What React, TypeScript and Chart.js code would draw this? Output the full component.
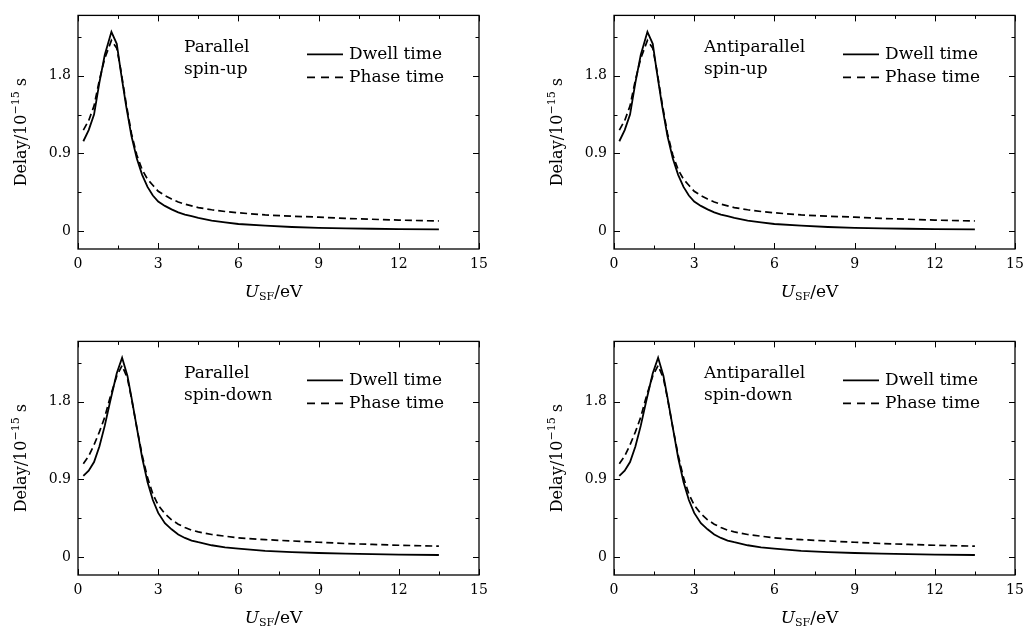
import React, { useEffect, useRef } from "react";
import { Chart, registerables } from "chart.js";

Chart.register(...registerables);

// ---------- data ----------
const energySpinUp = [0.2, 0.4, 0.6, 0.8, 1.0, 1.25, 1.45, 1.6, 1.8, 2.0, 2.2, 2.4, 2.6, 2.8, 3.0, 3.25, 3.5, 3.75, 4, 4.25, 4.5, 5, 5.5, 6, 7, 8, 9, 10, 11, 12, 13.5];
const parallelUpDwell = [1.04, 1.17, 1.35, 1.72, 2.04, 2.31, 2.17, 1.85, 1.45, 1.1, 0.84, 0.65, 0.51, 0.41, 0.34, 0.29, 0.25, 0.215, 0.19, 0.17, 0.15, 0.12, 0.1, 0.08, 0.06, 0.045, 0.035, 0.03, 0.025, 0.02, 0.017];
const parallelUpPhase = [1.17, 1.28, 1.45, 1.75, 2.0, 2.21, 2.12, 1.87, 1.48, 1.13, 0.88, 0.71, 0.6, 0.53, 0.46, 0.41, 0.37, 0.335, 0.31, 0.29, 0.27, 0.245, 0.225, 0.21, 0.185, 0.17, 0.16, 0.145, 0.135, 0.125, 0.115];
const antiUpDwell = [1.04, 1.17, 1.35, 1.72, 2.04, 2.31, 2.17, 1.85, 1.45, 1.1, 0.84, 0.65, 0.51, 0.41, 0.34, 0.29, 0.25, 0.215, 0.19, 0.17, 0.15, 0.12, 0.1, 0.08, 0.06, 0.045, 0.035, 0.03, 0.025, 0.02, 0.017];
const antiUpPhase = [1.17, 1.28, 1.45, 1.75, 2.0, 2.21, 2.12, 1.87, 1.48, 1.13, 0.88, 0.71, 0.6, 0.53, 0.46, 0.41, 0.37, 0.335, 0.31, 0.29, 0.27, 0.245, 0.225, 0.21, 0.185, 0.17, 0.16, 0.145, 0.135, 0.125, 0.115];

const energySpinDown = [0.2, 0.4, 0.6, 0.8, 1.0, 1.2, 1.45, 1.65, 1.85, 2.0, 2.2, 2.4, 2.6, 2.8, 3.0, 3.25, 3.5, 3.75, 4, 4.25, 4.5, 5, 5.5, 6, 7, 8, 9, 10, 11, 12, 13.5];
const parallelDownDwell = [0.94, 1.0, 1.1, 1.28, 1.52, 1.8, 2.13, 2.31, 2.1, 1.85, 1.5, 1.15, 0.87, 0.66, 0.51, 0.39, 0.32, 0.26, 0.22, 0.19, 0.17, 0.135, 0.11, 0.095, 0.07, 0.055, 0.045, 0.038, 0.032, 0.027, 0.022];
const parallelDownPhase = [1.08, 1.17, 1.3, 1.45, 1.62, 1.85, 2.1, 2.22, 2.07, 1.84, 1.5, 1.18, 0.92, 0.73, 0.6, 0.5, 0.43, 0.38, 0.34, 0.31, 0.29, 0.26, 0.24, 0.22, 0.2, 0.185, 0.17, 0.155, 0.145, 0.135, 0.125];
const antiDownDwell = [0.94, 1.0, 1.1, 1.28, 1.52, 1.8, 2.13, 2.31, 2.1, 1.85, 1.5, 1.15, 0.87, 0.66, 0.51, 0.39, 0.32, 0.26, 0.22, 0.19, 0.17, 0.135, 0.11, 0.095, 0.07, 0.055, 0.045, 0.038, 0.032, 0.027, 0.022];
const antiDownPhase = [1.08, 1.17, 1.3, 1.45, 1.62, 1.85, 2.1, 2.22, 2.07, 1.84, 1.5, 1.18, 0.92, 0.73, 0.6, 0.5, 0.43, 0.38, 0.34, 0.31, 0.29, 0.26, 0.24, 0.22, 0.2, 0.185, 0.17, 0.155, 0.145, 0.135, 0.125];

const seriesNames = ["Dwell time", "Phase time"];
const xMajorTicks = [0, 3, 6, 9, 12, 15];
const xMinorTicks = [1.5, 4.5, 7.5, 10.5, 13.5];
const yMajorTicks = [0, 0.9, 1.8];
const yMinorTicks = [0.45, 1.35, 2.25];

const FONT = '"DejaVu Serif", serif';

type Seg = { t: string; font: string; dy: number };

function drawRich(ctx: CanvasRenderingContext2D, segs: Seg[], cx: number, y: number) {
  let total = 0;
  const widths = segs.map((s) => {
    ctx.font = s.font;
    const w = ctx.measureText(s.t).width;
    total += w;
    return w;
  });
  let x = cx - total / 2;
  ctx.textAlign = "left";
  ctx.textBaseline = "alphabetic";
  segs.forEach((s, i) => {
    ctx.font = s.font;
    ctx.fillText(s.t, x, y + s.dy);
    x += widths[i];
  });
}

type PanelProps = {
  left: number;
  top: number;
  energy: number[];
  dwell: number[];
  phase: number[];
  label: string[];
};

const W = 516;
const H = 306;

function Panel({ left, top, energy, dwell, phase, label }: PanelProps) {
  const ref = useRef<HTMLCanvasElement>(null);
  useEffect(() => {
    if (!ref.current) return;
    const decor = {
      id: "decor",
      afterDraw(chart: any) {
        const ctx: CanvasRenderingContext2D = chart.ctx;
        const ca = chart.chartArea;
        const xs = chart.scales.x;
        const ys = chart.scales.y;
        ctx.save();
        ctx.strokeStyle = "#000";
        ctx.fillStyle = "#000";
        ctx.lineWidth = 1.3;
        ctx.setLineDash([]);
        ctx.strokeRect(ca.left, ca.top, ca.right - ca.left, ca.bottom - ca.top);
        ctx.lineWidth = 1;
        const tick = (x1: number, y1: number, x2: number, y2: number) => {
          ctx.beginPath();
          ctx.moveTo(x1, y1);
          ctx.lineTo(x2, y2);
          ctx.stroke();
        };
        xMajorTicks.forEach((v) => {
          const p = Math.round(xs.getPixelForValue(v)) + 0.5;
          tick(p, ca.bottom, p, ca.bottom - 6);
          tick(p, ca.top, p, ca.top + 6);
        });
        xMinorTicks.forEach((v) => {
          const p = Math.round(xs.getPixelForValue(v)) + 0.5;
          tick(p, ca.bottom, p, ca.bottom - 3.5);
          tick(p, ca.top, p, ca.top + 3.5);
        });
        yMajorTicks.forEach((v) => {
          const p = Math.round(ys.getPixelForValue(v)) + 0.5;
          tick(ca.left, p, ca.left + 6, p);
          tick(ca.right, p, ca.right - 6, p);
        });
        yMinorTicks.forEach((v) => {
          const p = Math.round(ys.getPixelForValue(v)) + 0.5;
          tick(ca.left, p, ca.left + 3.5, p);
          tick(ca.right, p, ca.right - 3.5, p);
        });

        // panel annotation
        ctx.font = `17px ${FONT}`;
        ctx.textAlign = "left";
        ctx.textBaseline = "alphabetic";
        const annX = label[0].startsWith("Anti") ? ca.left + 90 : ca.left + 106;
        ctx.fillText(label[0], annX, ca.top + 36.5);
        ctx.fillText(label[1], annX, ca.top + 58.5);

        // legend
        const lx0 = ca.left + 229;
        const lx1 = ca.left + 265;
        const tx = ca.left + 271;
        const b1 = ca.top + 43.5;
        const b2 = ca.top + 66.5;
        ctx.lineWidth = 1.8;
        ctx.setLineDash([]);
        tick(lx0, b1 - 4.5, lx1, b1 - 4.5);
        ctx.setLineDash([8, 6]);
        tick(lx0, b2 - 4.5, lx1 + 2, b2 - 4.5);
        ctx.setLineDash([]);
        ctx.fillText(seriesNames[0], tx, b1);
        ctx.fillText(seriesNames[1], tx, b2);

        // x axis title
        const cx = (ca.left + ca.right) / 2 - 5;
        drawRich(
          ctx,
          [
            { t: "U", font: `italic 17px ${FONT}`, dy: 0 },
            { t: "SF", font: `11px ${FONT}`, dy: 3 },
            { t: "/eV", font: `17px ${FONT}`, dy: 0 },
          ],
          cx,
          ca.bottom + 48
        );

        // y axis title
        ctx.save();
        ctx.translate(26, (ca.top + ca.bottom) / 2);
        ctx.rotate(-Math.PI / 2);
        drawRich(
          ctx,
          [
            { t: "Delay/10", font: `16px ${FONT}`, dy: 0 },
            { t: "\u221215", font: `11px ${FONT}`, dy: -7 },
            { t: " s", font: `16px ${FONT}`, dy: 0 },
          ],
          0,
          0
        );
        ctx.restore();
        ctx.restore();
      },
    };

    const chart = new Chart(ref.current, {
      type: "line",
      data: {
        datasets: [
          {
            label: seriesNames[0],
            data: energy.map((x, i) => ({ x, y: dwell[i] })),
            borderColor: "#000",
            borderWidth: 1.8,
            pointRadius: 0,
            tension: 0,
            fill: false,
          },
          {
            label: seriesNames[1],
            data: energy.map((x, i) => ({ x, y: phase[i] })),
            borderColor: "#000",
            borderWidth: 1.7,
            borderDash: [7, 4],
            pointRadius: 0,
            tension: 0,
            fill: false,
          },
        ],
      },
      options: {
        animation: false,
        responsive: false,
        devicePixelRatio: 1,
        layout: { padding: { top: 6.5, right: 37, bottom: 0, left: 0 } },
        plugins: { legend: { display: false }, tooltip: { enabled: false } },
        scales: {
          x: {
            type: "linear",
            min: 0,
            max: 15,
            grid: { display: false, drawTicks: false },
            border: { display: false },
            ticks: {
              stepSize: 3,
              padding: 7,
              color: "#000",
              font: { family: "DejaVu Serif", size: 14 },
              maxRotation: 0,
            },
            afterFit: (s: any) => {
              s.height = 57;
            },
          },
          y: {
            type: "linear",
            min: -0.21,
            max: 2.5,
            grid: { display: false, drawTicks: false },
            border: { display: false },
            afterBuildTicks: (s: any) => {
              s.ticks = yMajorTicks.map((v) => ({ value: v }));
            },
            ticks: {
              padding: 7,
              color: "#000",
              autoSkip: false,
              font: { family: "DejaVu Serif", size: 14 },
              callback: (v: any) => String(Math.round(Number(v) * 10) / 10),
            },
            afterFit: (s: any) => {
              s.width = 78;
            },
          },
        },
      },
      plugins: [decor],
    } as any);
    return () => chart.destroy();
  }, []);
  return (
    <canvas
      ref={ref}
      width={W}
      height={H}
      style={{ position: "absolute", left, top, width: W, height: H }}
    />
  );
}

export default function App() {
  return (
    <div
      style={{
        position: "fixed",
        left: 0,
        top: 0,
        width: 1032,
        height: 632,
        background: "#fff",
        overflow: "hidden",
      }}
    >
      <Panel left={0} top={0} energy={energySpinUp} dwell={parallelUpDwell} phase={parallelUpPhase} label={["Parallel", "spin-up"]} />
      <Panel left={536} top={0} energy={energySpinUp} dwell={antiUpDwell} phase={antiUpPhase} label={["Antiparallel", "spin-up"]} />
      <Panel left={0} top={326} energy={energySpinDown} dwell={parallelDownDwell} phase={parallelDownPhase} label={["Parallel", "spin-down"]} />
      <Panel left={536} top={326} energy={energySpinDown} dwell={antiDownDwell} phase={antiDownPhase} label={["Antiparallel", "spin-down"]} />
    </div>
  );
}
